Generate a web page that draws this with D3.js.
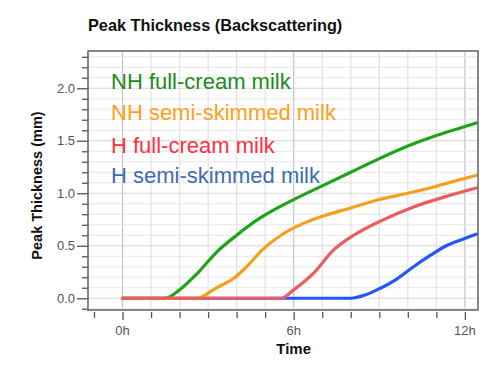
<!DOCTYPE html>
<html><head><meta charset="utf-8">
<script src="https://cdn.jsdelivr.net/npm/d3@7/dist/d3.min.js"></script>
<style>body{margin:0;background:#fff}svg{display:block;font-family:"Liberation Sans",Arial,sans-serif}</style>
</head><body><svg id="c" width="504" height="368"></svg>
<script>
const title = "Peak Thickness (Backscattering)";
const yTitle = "Peak Thickness (mm)";
const xTitle = "Time";
const xTickValues = [0, 6, 12];
const xTickLabels = ["0h", "6h", "12h"];
const yTickValues = [0, 0.5, 1, 1.5, 2];
const yTickLabels = ["0.0", "0.5", "1.0", "1.5", "2.0"];
const seriesNames = ["NH full-cream milk", "NH semi-skimmed milk", "H full-cream milk", "H semi-skimmed milk"];

// hours and values per series
const nhFullH = [0, 1.5, 2.0, 2.6, 3.3, 4.0, 4.8, 5.5, 6.0, 7.0, 8.0, 9.0, 10.0, 11.0, 11.7, 12.4];
const nhFullV = [0, 0, 0.08, 0.23, 0.44, 0.60, 0.76, 0.87, 0.94, 1.07, 1.20, 1.33, 1.45, 1.55, 1.61, 1.67];
const nhSemiH = [0, 2.6, 3.3, 3.9, 4.35, 4.9, 5.5, 6.0, 6.5, 7.0, 8.0, 9.0, 10.0, 10.9, 11.7, 12.4];
const nhSemiV = [0, 0, 0.10, 0.19, 0.30, 0.46, 0.59, 0.67, 0.73, 0.78, 0.86, 0.94, 1.0, 1.06, 1.12, 1.17];
const hFullH = [0, 5.55, 6.0, 6.7, 7.4, 8.1, 9.0, 10.2, 11.35, 12.4];
const hFullV = [0, 0, 0.08, 0.24, 0.46, 0.60, 0.73, 0.87, 0.97, 1.05];
const hSemiH = [0, 8.0, 8.5, 9.0, 9.6, 10.2, 10.8, 11.35, 11.9, 12.4];
const hSemiV = [0, 0, 0.03, 0.09, 0.18, 0.30, 0.41, 0.50, 0.56, 0.61];

const lineColors = ["#1ea31a", "#f3a11c", "#ec5c5f", "#2457fb"];
const textColors = ["#1b8c1b", "#ffa01a", "#ff3040", "#3b6db4"];

const svg = d3.select("#c");
const L = 88, R = 478, T = 51, B = 310;
const x = d3.scaleLinear().domain([-1.21, 12.46]).range([L, R]);
const y = d3.scaleLinear().domain([-0.112, 2.355]).range([B, T]);

// grid
const g = svg.append("g");
const hours = d3.range(-1, 13);
g.selectAll(".vg").data(hours.filter(h => h >= 0)).join("line")
  .attr("x1", d => x(d)).attr("x2", d => x(d)).attr("y1", T).attr("y2", B)
  .attr("stroke", d => d % 6 === 0 ? "#c4c4c4" : "#e2e2e2").attr("stroke-width", 1.2);
const yMinor = d3.range(-1, 24).map(d => d / 10);
g.selectAll(".hg").data(yMinor).join("line")
  .attr("x1", L).attr("x2", R).attr("y1", d => y(d)).attr("y2", d => y(d))
  .attr("stroke", d => Math.abs(d * 2 - Math.round(d * 2)) < 1e-6 ? "#d6d6d6" : "#e6e6e6").attr("stroke-width", 1.2);

// y axis ticks
const ya = d3.axisLeft(y).tickValues(yMinor.filter(d => d >= -0.1 && d <= 2.3)).tickSize(6).tickFormat("");
const yaG = svg.append("g").attr("transform", `translate(${L},0)`).call(ya);
yaG.select(".domain").remove();
yaG.selectAll("line").attr("stroke", "#555").attr("stroke-width", 1.3)
  .attr("x2", d => yTickValues.some(v => Math.abs(v - d) < 1e-6) ? -11 : -6);
svg.append("g").selectAll("text").data(yTickValues).join("text")
  .attr("x", 75).attr("y", d => y(d)).attr("dy", "0.35em").attr("text-anchor", "end")
  .attr("font-size", 13).attr("fill", "#555").text((d, i) => yTickLabels[i]);

// x axis ticks
const xa = d3.axisBottom(x).tickValues(hours).tickSize(6).tickFormat("");
const xaG = svg.append("g").attr("transform", `translate(0,${B + 2})`).call(xa);
xaG.select(".domain").remove();
xaG.selectAll("line").attr("stroke", "#555").attr("stroke-width", 1.3)
  .attr("y2", d => xTickValues.includes(d) ? 8 : 6);
svg.append("g").selectAll("text").data(xTickValues).join("text")
  .attr("x", d => x(d)).attr("y", 335).attr("text-anchor", "middle")
  .attr("font-size", 13).attr("fill", "#555").text((d, i) => xTickLabels[i]);

// lines
const series = [
  {h: hSemiH, v: hSemiV, c: lineColors[3]},
  {h: nhFullH, v: nhFullV, c: lineColors[0]},
  {h: nhSemiH, v: nhSemiV, c: lineColors[1]},
  {h: hFullH, v: hFullV, c: lineColors[2]}
];
const line = d3.line().x(d => x(d[0])).y(d => y(d[1])).curve(d3.curveMonotoneX);
series.forEach(s => {
  svg.append("path").datum(s.h.map((h, i) => [h, s.v[i]]))
    .attr("d", line).attr("fill", "none").attr("stroke", s.c)
    .attr("stroke-width", 3.2).attr("stroke-linecap", "round").attr("stroke-linejoin", "round");
});

// frame
svg.append("rect").attr("x", L).attr("y", T).attr("width", R - L).attr("height", B - T)
  .attr("fill", "none").attr("stroke", "#606060").attr("stroke-width", 1.5);

// legend text
const legY = [89, 120, 153, 183];
svg.append("g").selectAll("text").data(seriesNames).join("text")
  .attr("x", 111).attr("y", (d, i) => legY[i]).attr("font-size", 22)
  .attr("fill", (d, i) => textColors[i]).text(d => d);

// titles
svg.append("text").attr("x", 88).attr("y", 31).attr("font-size", 16.3).attr("font-weight", "bold")
  .attr("fill", "#111").text(title);
svg.append("text").attr("transform", `translate(42,${(T + B) / 2 + 5}) rotate(-90)`)
  .attr("text-anchor", "middle").attr("font-size", 14.5).attr("font-weight", "bold").attr("fill", "#111").text(yTitle);
svg.append("text").attr("x", x(6)).attr("y", 354).attr("text-anchor", "middle")
  .attr("font-size", 15).attr("font-weight", "bold").attr("fill", "#111").text(xTitle);
</script></body></html>
